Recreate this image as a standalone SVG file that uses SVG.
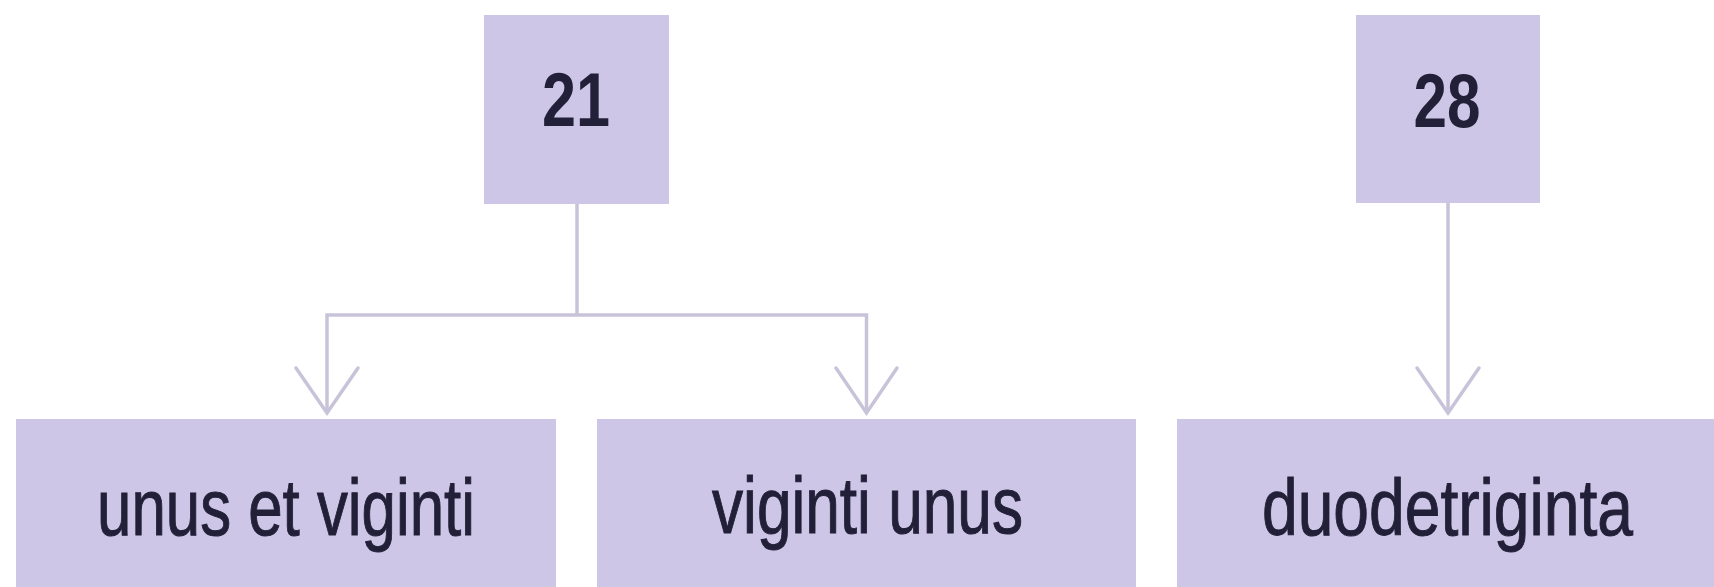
<svg xmlns="http://www.w3.org/2000/svg" width="1714" height="587" viewBox="0 0 1714 587">
<defs>
<style>
.box{fill:#cdc6e6}
.lbl{font-family:"Liberation Sans",Arial,sans-serif;fill:#221f38;text-anchor:middle}
.num{font-weight:bold;font-size:76px}
.word{font-size:79px;stroke:#221f38;stroke-width:1}
.conn{fill:none;stroke:#c9c3da;stroke-width:3.5;stroke-linejoin:miter}
.head{fill:none;stroke:#c9c3da;stroke-width:3.5;stroke-linecap:round;stroke-linejoin:miter}
</style>
</defs>
<rect width="1714" height="587" fill="#ffffff"/>
<g id="connectors">
<path class="conn" d="M577 204 V315 M327 413 V315 H866.5 V413"/>
<path class="conn" d="M1448 203 V413"/>
<path class="head" d="M296 368 L327 413 L358 368"/>
<path class="head" d="M836 368 L866.5 413 L897 368"/>
<path class="head" d="M1417 368 L1448 413 L1479 368"/>
</g>
<g id="node-21">
<rect class="box" x="484" y="15" width="185" height="189"/>
<text class="lbl num" x="576" y="126" textLength="68" lengthAdjust="spacingAndGlyphs">21</text>
</g>
<g id="node-28">
<rect class="box" x="1356" y="15" width="184" height="188"/>
<text class="lbl num" x="1447" y="127" textLength="67" lengthAdjust="spacingAndGlyphs">28</text>
</g>
<g id="node-unus-et-viginti">
<rect class="box" x="16" y="419" width="540" height="168"/>
<text class="lbl word" x="286" y="535" textLength="378" lengthAdjust="spacingAndGlyphs">unus et viginti</text>
</g>
<g id="node-viginti-unus">
<rect class="box" x="597" y="419" width="539" height="168"/>
<text class="lbl word" x="867.5" y="533" textLength="311" lengthAdjust="spacingAndGlyphs">viginti unus</text>
</g>
<g id="node-duodetriginta">
<rect class="box" x="1177" y="419" width="537" height="168"/>
<text class="lbl word" x="1447.5" y="535" textLength="371" lengthAdjust="spacingAndGlyphs">duodetriginta</text>
</g>
</svg>
